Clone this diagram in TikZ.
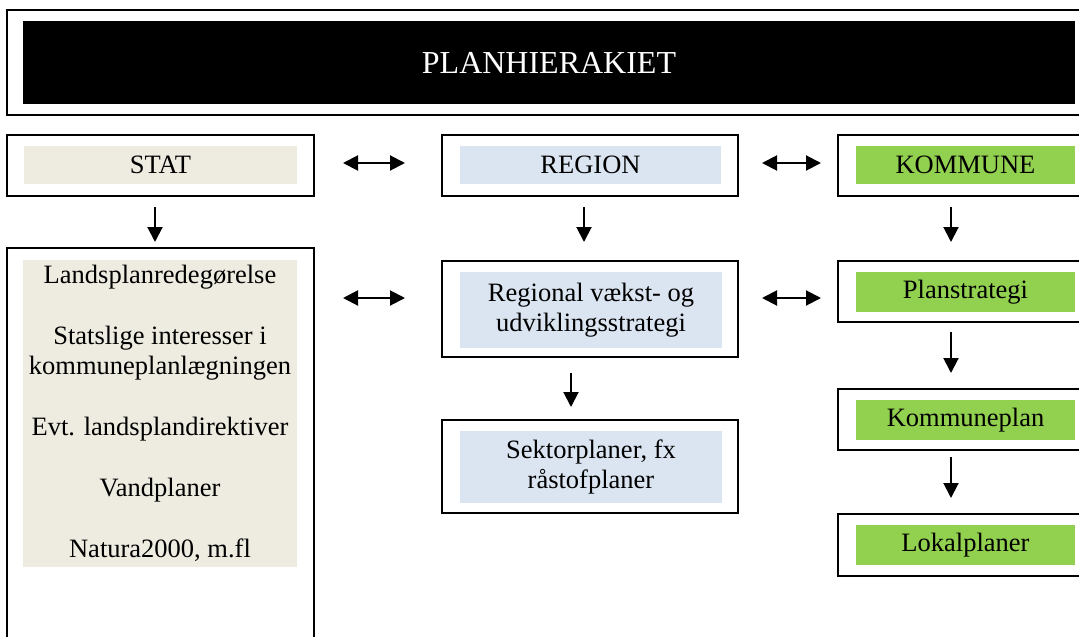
\documentclass[tikz,border=0pt]{standalone}
\usepackage{fontspec}
\setmainfont{Liberation Serif}
\usetikzlibrary{arrows.meta}
\definecolor{statfill}{HTML}{EEECE1}
\definecolor{regfill}{HTML}{DBE5F1}
\definecolor{komfill}{HTML}{92D050}
\tikzset{
  outerbox/.style={draw=black, line width=2pt, fill=white, inner sep=0pt, outer sep=0pt, anchor=north west},
  innerbox/.style={inner sep=0pt, outer sep=0pt, anchor=north west, align=center,
    font=\fontsize{26.5}{30.5}\selectfont},
  arr/.style={line width=2pt, -{Triangle[length=15pt,width=15pt]}},
  darr/.style={line width=2pt, {Triangle[length=15pt,width=15pt]}-{Triangle[length=15pt,width=15pt]}}
}
\newcommand{\obox}[5]{\node[outerbox, minimum width=#4pt, minimum height=#5pt] (#1) at (#2,#3) {};}
\begin{document}
\begin{tikzpicture}[x=1pt,y=-1pt]
\useasboundingbox (0,0) rectangle (1079,637);
% title
\obox{titleout}{7}{10}{1090}{105}
\node[innerbox, fill=black, text=white, minimum width=1052pt, minimum height=83pt,
  font=\fontsize{32}{36}\selectfont] (title) at (23,21) {PLANHIERAKIET};
% STAT column
\obox{statout}{7}{135}{307}{61}
\node[innerbox, fill=statfill, minimum width=273pt, minimum height=38pt] (stat) at (24,146) {STAT};
\obox{bigout}{7}{248}{307}{460}
\node[innerbox, fill=statfill, minimum width=274pt, minimum height=307pt] (big) at (23,260)
  {Landsplanredegørelse\\[30.5pt]Statslige interesser i\\kommuneplanlægningen\\[30.5pt]Evt. landsplandirektiver\\[30.5pt]Vandplaner\\[30.5pt]Natura2000, m.fl};
% REGION column
\obox{regout}{442}{135}{296}{61}
\node[innerbox, fill=regfill, minimum width=261pt, minimum height=38pt] (region) at (460,146) {REGION};
\obox{rvout}{442}{261}{296}{96}
\node[innerbox, fill=regfill, minimum width=262pt, minimum height=76pt] (rv) at (460,272)
  {Regional vækst- og\\udviklingsstrategi};
\obox{sekout}{442}{420}{296}{93}
\node[innerbox, fill=regfill, minimum width=262pt, minimum height=72pt] (sek) at (460,431)
  {Sektorplaner, fx\\råstofplaner};
% KOMMUNE column
\obox{komout}{838}{135}{260}{61}
\node[innerbox, fill=komfill, minimum width=219pt, minimum height=38pt] (kommune) at (856,146) {KOMMUNE};
\obox{psout}{838}{261}{260}{61}
\node[innerbox, fill=komfill, minimum width=219pt, minimum height=40pt] (plan) at (856,272) {Planstrategi};
\obox{kpout}{838}{389}{260}{61}
\node[innerbox, fill=komfill, minimum width=219pt, minimum height=40pt] (kplan) at (856,400) {Kommuneplan};
\obox{lpout}{838}{514}{260}{62}
\node[innerbox, fill=komfill, minimum width=219pt, minimum height=40pt] (lplan) at (856,525) {Lokalplaner};
% arrow end points
\coordinate (a1s) at (155,207); \coordinate (a1e) at (155,242);
\coordinate (a2s) at (584,207); \coordinate (a2e) at (584,242);
\coordinate (a3s) at (951,207); \coordinate (a3e) at (951,242);
\coordinate (a4s) at (571,373); \coordinate (a4e) at (571,407);
\coordinate (a5s) at (951,332); \coordinate (a5e) at (951,373);
\coordinate (a6s) at (951,457); \coordinate (a6e) at (951,498);
\coordinate (d1s) at (343,163); \coordinate (d1e) at (405,163);
\coordinate (d2s) at (343,298); \coordinate (d2e) at (405,298);
\coordinate (d3s) at (762,163); \coordinate (d3e) at (821,163);
\coordinate (d4s) at (762,298); \coordinate (d4e) at (821,298);
\draw[arr] (a1s) -- (a1e);
\draw[arr] (a2s) -- (a2e);
\draw[arr] (a3s) -- (a3e);
\draw[arr] (a4s) -- (a4e);
\draw[arr] (a5s) -- (a5e);
\draw[arr] (a6s) -- (a6e);
\draw[darr] (d1s) -- (d1e);
\draw[darr] (d2s) -- (d2e);
\draw[darr] (d3s) -- (d3e);
\draw[darr] (d4s) -- (d4e);
\end{tikzpicture}
\end{document}
